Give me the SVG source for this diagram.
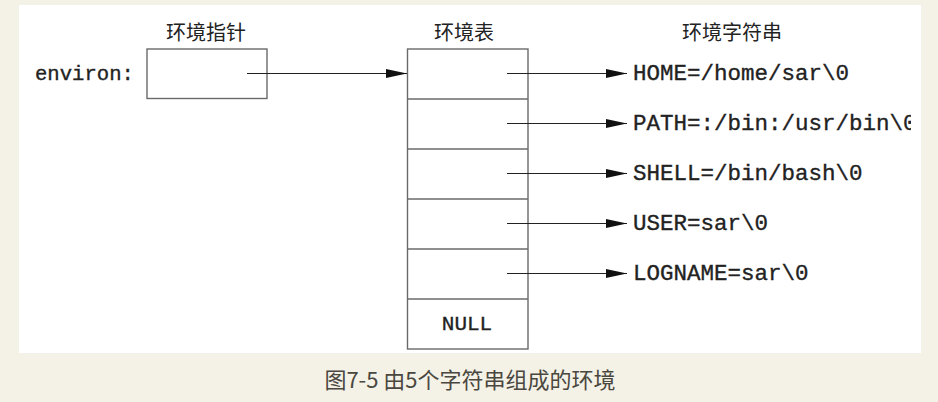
<svg xmlns="http://www.w3.org/2000/svg" width="938" height="402" viewBox="0 0 938 402">
<style>
.box{fill:#fff;stroke:#6a6a6a;stroke-width:1.4}
.div{stroke:#6a6a6a;stroke-width:1.4}
.conn{stroke:#222;stroke-width:1.2;fill:none;marker-end:url(#ah)}
.mono{font-family:"Liberation Mono","Courier New",monospace;fill:#222;stroke:#222;stroke-width:0.35}
.cjk{font-family:"Noto Sans CJK SC","Noto Sans",sans-serif;fill:#222;font-size:20px;text-anchor:middle}
.cap{font-family:"Noto Sans CJK SC","Noto Sans",sans-serif;fill:#4a4740;font-size:22px;text-anchor:middle}
</style>
<defs>
<marker id="ah" markerWidth="22" markerHeight="10" refX="21" refY="5" orient="auto" markerUnits="userSpaceOnUse">
<path d="M0,0.5 L21,5 L0,9.5 Z" fill="#111"/>
</marker>
<clipPath id="clip"><rect x="19" y="5" width="892" height="348"/></clipPath>
</defs>
<rect width="938" height="402" fill="#f4f1e6"/>
<rect x="19" y="5" width="902" height="348" fill="#fff"/>

<g id="titles">
<text class="cjk" x="206" y="40">环境指针</text>
<text class="cjk" x="464" y="40">环境表</text>
<text class="cjk" x="732" y="40">环境字符串</text>
</g>

<g id="pointer">
<text class="mono" x="35" y="80" font-size="20.6">environ:</text>
<rect class="box" x="147" y="49" width="120" height="49.5"/>
</g>

<g id="table">
<rect class="box" x="407.5" y="49" width="120.5" height="300"/>
<line class="div" x1="407.5" y1="99" x2="528" y2="99"/>
<line class="div" x1="407.5" y1="149" x2="528" y2="149"/>
<line class="div" x1="407.5" y1="199" x2="528" y2="199"/>
<line class="div" x1="407.5" y1="249" x2="528" y2="249"/>
<line class="div" x1="407.5" y1="299" x2="528" y2="299"/>
<text class="mono" x="467" y="330" font-size="21" text-anchor="middle">NULL</text>
</g>

<g id="strings" clip-path="url(#clip)">
<text class="mono" x="633" y="80" font-size="22.5">HOME=/home/sar\0</text>
<text class="mono" x="633" y="130" font-size="22.5">PATH=:/bin:/usr/bin\0</text>
<text class="mono" x="633" y="180" font-size="22.5">SHELL=/bin/bash\0</text>
<text class="mono" x="633" y="230" font-size="22.5">USER=sar\0</text>
<text class="mono" x="633" y="280" font-size="22.5">LOGNAME=sar\0</text>
</g>

<g id="connectors">
<line class="conn" x1="247" y1="73.5" x2="407" y2="73.5"/>
<line class="conn" x1="507" y1="73.5" x2="627" y2="73.5"/>
<line class="conn" x1="507" y1="123.5" x2="627" y2="123.5"/>
<line class="conn" x1="507" y1="173.5" x2="627" y2="173.5"/>
<line class="conn" x1="507" y1="223.5" x2="627" y2="223.5"/>
<line class="conn" x1="507" y1="273.5" x2="627" y2="273.5"/>
</g>

<text class="cap" x="470" y="388">图7-5 由5个字符串组成的环境</text>
</svg>
